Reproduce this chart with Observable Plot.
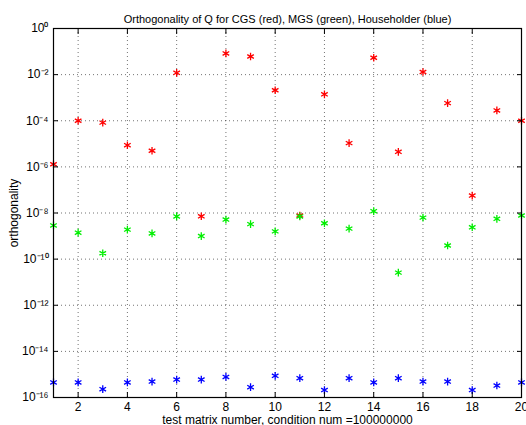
<!DOCTYPE html>
<html><head><meta charset="utf-8">
<script src="https://cdn.jsdelivr.net/npm/d3@7"></script>
<script src="https://cdn.jsdelivr.net/npm/@observablehq/plot@0.6"></script>
<style>
html,body{margin:0;padding:0;background:#fff;}
</style>
</head><body><div id="chart"></div>
<script>
const matrixNumbers = [1,2,3,4,5,6,7,8,9,10,11,12,13,14,15,16,17,18,19,20];
const cgs = [1.3e-6,1.0e-4,8.3e-5,8.7e-6,5.0e-6,1.2e-2,7.2e-9,8.3e-2,6.1e-2,2.1e-3,7.8e-9,1.4e-3,1.07e-5,5.4e-2,4.5e-6,1.3e-2,5.8e-4,5.7e-8,2.8e-4,1.0e-4];
const mgs = [2.9e-9,1.4e-9,1.8e-10,1.9e-9,1.3e-9,7.1e-9,1.0e-9,5.2e-9,3.3e-9,1.6e-9,7.1e-9,3.6e-9,2.1e-9,1.2e-8,2.6e-11,6.3e-9,3.9e-10,2.4e-9,5.6e-9,7.8e-9];
const householder = [4.5e-16,4.5e-16,2.3e-16,4.5e-16,4.9e-16,6.0e-16,6.0e-16,7.8e-16,2.8e-16,8.7e-16,6.9e-16,2.1e-16,6.9e-16,4.5e-16,6.9e-16,4.9e-16,4.9e-16,2.1e-16,3.3e-16,4.5e-16];
const seriesNames = ["CGS","MGS","Householder"];
const seriesColors = ["#ff0000","#00ee00","#0000ff"];
const yTicks = [1,1e-2,1e-4,1e-6,1e-8,1e-10,1e-12,1e-14,1e-16];
const xTicks = [2,4,6,8,10,12,14,16,18,20];
const titleText = "Orthogonality of Q for CGS (red), MGS (green), Householder (blue)";
const xLabel = "test matrix number, condition num =100000000";
const yLabel = "orthogonality";

const rows = [];
[cgs, mgs, householder].forEach((vals, s) => vals.forEach((v, i) => rows.push({x: matrixNumbers[i], y: v, series: seriesNames[s]})));

const supMap = {"-":"⁻","0":"⁰","1":"¹","2":"²","3":"³","4":"⁴","5":"⁵","6":"⁶","7":"⁷","8":"⁸","9":"⁹"};
const fmtPow = d => "10" + String(Math.round(Math.log10(d))).split("").map(c => supMap[c]).join("");

const gridStyle = {stroke: "#000", strokeOpacity: 0.55, strokeDasharray: "1,3", strokeWidth: 1};

const chart = Plot.plot({
  width: 526, height: 425,
  marginTop: 28, marginBottom: 28, marginLeft: 53, marginRight: 5,
  style: {fontFamily: "'Liberation Sans', Arial, Helvetica, sans-serif", fontSize: "11px", background: "#fff", overflow: "visible", color: "#000"},
  x: {domain: [1, 20]},
  y: {type: "log", domain: [1e-16, 1]},
  color: {domain: seriesNames, range: seriesColors},
  marks: [
    Plot.gridX(xTicks, gridStyle),
    Plot.gridY(yTicks, gridStyle),
    Plot.dot(rows, {x: "x", y: "y", stroke: "series", symbol: "asterisk", r: 3.6, strokeWidth: 1.3}),
    Plot.axisX(xTicks, {anchor: "bottom", tickSize: 0, tickPadding: 5, fontSize: 12, label: xLabel, labelAnchor: "center", labelArrow: "none", labelOffset: 26}),
    Plot.axisX(xTicks, {anchor: "bottom", tickSize: -5, tickFormat: () => "", label: null}),
    Plot.axisX(xTicks, {anchor: "top", tickSize: -5, tickFormat: () => "", label: null}),
    Plot.axisY(yTicks, {anchor: "left", tickSize: 0, tickPadding: 5, fontSize: 12, tickFormat: fmtPow, label: yLabel, labelAnchor: "center", labelArrow: "none", labelOffset: 44}),
    Plot.axisY(yTicks, {anchor: "left", tickSize: -5, tickFormat: () => "", label: null}),
    Plot.axisY(yTicks, {anchor: "right", tickSize: -5, tickFormat: () => "", label: null}),
    Plot.frame({stroke: "#000", strokeWidth: 1.2}),
    Plot.text([titleText], {frameAnchor: "top", dy: -13, fontSize: 11})
  ]
});
document.getElementById("chart").appendChild(chart);
</script>
</body></html>
